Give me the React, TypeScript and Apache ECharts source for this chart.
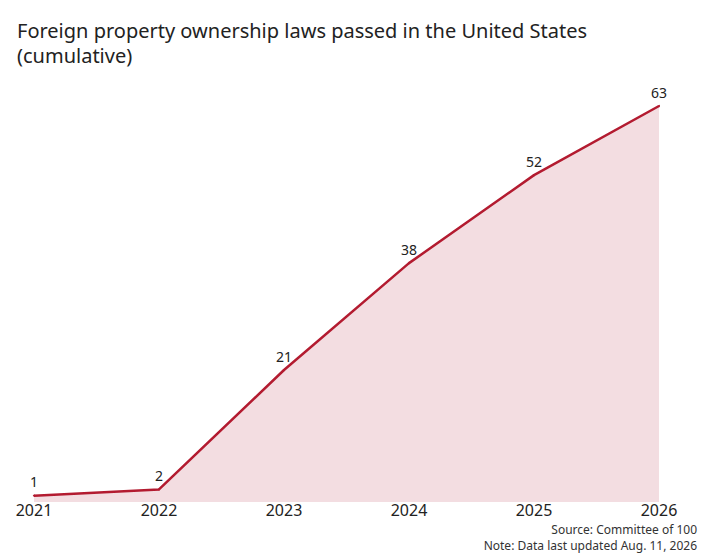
import React, { useEffect, useRef } from "react";
import * as echarts from "echarts";

const years = ["2021", "2022", "2023", "2024", "2025", "2026"];
const cumulativeLaws = [1, 2, 21, 38, 52, 63];
const titleText = "Foreign property ownership laws passed in the United States\n(cumulative)";
const sourceText = "Source: Committee of 100";
const noteText = "Note: Data last updated Aug. 11, 2026";

export default function App() {
  const ref = useRef<HTMLDivElement>(null);
  useEffect(() => {
    if (!ref.current) return;
    const chart = echarts.init(ref.current, null, { renderer: "svg" });
    const font = "'Noto Sans', sans-serif";
    chart.setOption({
      animation: false,
      backgroundColor: "#ffffff",
      textStyle: { fontFamily: font },
      title: {
        text: titleText,
        left: 12,
        top: 13,
        textStyle: {
          fontFamily: font,
          fontSize: 20,
          fontWeight: "normal",
          color: "#222222",
          lineHeight: 25,
        },
      },
      graphic: [
        {
          type: "text",
          right: 16,
          top: 523,
          style: {
            text: sourceText,
            font: "12px " + font,
            fill: "#333333",
          },
        },
        {
          type: "text",
          right: 16,
          top: 539,
          style: {
            text: noteText,
            font: "12px " + font,
            fill: "#333333",
          },
        },
      ],
      grid: { left: 34, right: 54, top: 106, bottom: 57 },
      xAxis: {
        type: "category",
        data: years,
        boundaryGap: false,
        axisLine: { show: false },
        axisTick: { show: false },
        axisLabel: { color: "#222222", fontSize: 16, margin: 0, fontFamily: font },
      },
      yAxis: {
        type: "value",
        min: 0,
        max: 63,
        show: false,
        splitLine: { show: false },
      },
      series: [
        {
          type: "line",
          data: cumulativeLaws,
          symbol: "circle",
          symbolSize: 2,
          showSymbol: true,
          itemStyle: { color: "#b31b30" },
          lineStyle: { color: "#b31b30", width: 2.5 },
          areaStyle: { color: "#f3dde1", opacity: 1 },
          label: {
            show: true,
            position: "top",
            distance: 6,
            color: "#222222",
            fontSize: 14,
            fontFamily: font,
          },
        },
      ],
    });
    return () => chart.dispose();
  }, []);
  return (
    <div
      ref={ref}
      style={{ position: "absolute", left: 0, top: 0, width: 713, height: 559 }}
    />
  );
}
